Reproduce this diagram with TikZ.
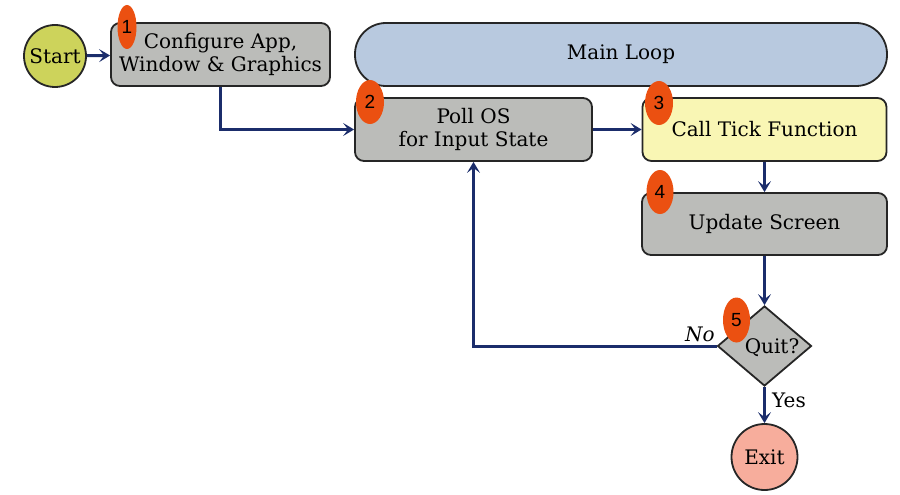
\documentclass[tikz,border=0pt]{standalone}
\usepackage{fontspec}
\setmainfont{DejaVu Serif}
\newfontfamily\badgefont{Liberation Sans}
\usetikzlibrary{shapes.geometric,arrows.meta}
\definecolor{boxgray}{HTML}{BBBCB9}
\definecolor{startcol}{HTML}{CDD35B}
\definecolor{loopcol}{HTML}{B8C9DF}
\definecolor{tickcol}{HTML}{F9F6B4}
\definecolor{exitcol}{HTML}{F7AD9C}
\definecolor{badgecol}{HTML}{EB5011}
\definecolor{arrcol}{HTML}{1B2D6B}
\tikzset{
  mainfont/.style={font=\fontsize{20}{23}\selectfont},
  stepbox/.style={draw=black!85, line width=1.8pt, rounded corners=9pt, fill=boxgray, inner sep=0pt, align=center, mainfont},
  roundnode/.style={circle, draw=black!85, line width=1.8pt, inner sep=0pt, mainfont},
  badge/.style={ellipse, fill=badgecol, inner sep=0pt, font=\badgefont\fontsize{19}{21}\selectfont},
  flow/.style={draw=arrcol, line width=3pt, -{Stealth[length=11pt,width=13pt,inset=5pt]}},
  lbl/.style={font=\fontsize{20}{23}\selectfont, inner sep=1pt}
}
\begin{document}
\begin{tikzpicture}[x=1pt,y=-1pt]
\useasboundingbox (0,0) rectangle (900,495);
% nodes
\node[roundnode, fill=startcol, minimum size=62pt] (start) at (55,56) {Start};
\node[stepbox, minimum width=219pt, minimum height=63pt] (cfg) at (220.5,54.5) {Configure App,\\Window \& Graphics};
\node[stepbox, fill=loopcol, rounded corners=31pt, minimum width=532pt, minimum height=63pt] (loop) at (621,54.5) {Main Loop};
\node[stepbox, minimum width=237pt, minimum height=63pt] (poll) at (473.5,129.5) {Poll OS\\for Input State};
\node[stepbox, fill=tickcol, minimum width=244pt, minimum height=63pt] (tick) at (764.5,129.5) {Call Tick Function};
\node[stepbox, minimum width=245pt, minimum height=62pt] (upd) at (764.5,224) {Update Screen};
\node[diamond, draw=black!85, line width=1.8pt, fill=boxgray, inner sep=0pt, minimum width=94pt, minimum height=80pt] (quit) at (764.5,346) {};
\node[roundnode, fill=exitcol, minimum size=66pt] (exit) at (764.5,457) {Exit};
% badges
\node[badge, minimum width=19pt, minimum height=44pt] (b1) at (127,27) {1};
\node[badge, minimum width=28pt, minimum height=44pt] (b2) at (370,102) {2};
\node[badge, minimum width=28pt, minimum height=44pt] (b3) at (659,103) {3};
\node[badge, minimum width=27pt, minimum height=44pt] (b4) at (660,192) {4};
\node[badge, minimum width=27pt, minimum height=45pt] (b5) at (736.5,320) {5};
\node[mainfont, inner sep=0pt] (quittxt) at (772,348) {Quit?};
% connectors
\coordinate (c1) at (220,130);
\coordinate (c2) at (473.5,346);
\draw[flow] (start) -- (cfg);
\draw[flow] (cfg.south -| c1) -- (c1 |- poll.west) -- (poll.west);
\draw[flow] (poll.east) -- (tick.west);
\draw[flow] (tick.south) -- (upd.north);
\draw[flow] (upd.south) -- (quit.north);
\draw[flow] (quit.west) -- (c2) -- (c2 |- poll.south);
\draw[flow] (quit.south) -- (exit.north);
% labels
\node[lbl, font=\itshape\fontsize{20}{23}\selectfont] (nolbl) at (700,334) {No};
\node[lbl] (yeslbl) at (789,400) {Yes};
\end{tikzpicture}
\end{document}
